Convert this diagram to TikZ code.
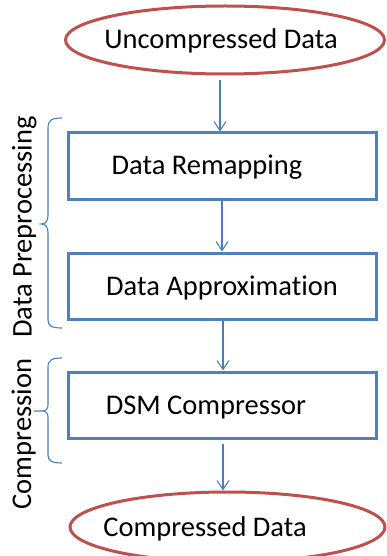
\documentclass[tikz,border=0pt]{standalone}
\usepackage{fontspec}
\setmainfont{Carlito}[Ligatures=CommonOff]
\usetikzlibrary{shapes.geometric,arrows.meta}
\definecolor{boxblue}{HTML}{4F81BD}
\definecolor{ovalred}{HTML}{C0504D}
\definecolor{linkblue}{HTML}{4A7EBB}
\tikzset{
  stage/.style={draw=boxblue, line width=3pt, rectangle, minimum width=308pt,
    minimum height=66pt, inner sep=0pt, text height=18pt, text depth=0pt},
  oval/.style={draw=ovalred, line width=3pt, ellipse, inner sep=0pt,
    text height=18pt, text depth=0pt},
  link/.style={draw=linkblue, line width=1.1pt,
    -{Straight Barb[length=9pt,width=12pt,line width=1.1pt]}},
  bracket/.style={draw=linkblue, line width=1.1pt},
  sidelabel/.style={rotate=90, inner sep=0pt, text height=18pt, text depth=0pt}
}
\begin{document}
\begin{tikzpicture}[x=1pt, y=-1pt, font=\fontsize{28.5pt}{34pt}\selectfont]
\useasboundingbox (0,0) rectangle (386,556);

% start and end of the flow
\node[oval, minimum width=319pt, minimum height=68pt] (u) at (225,40)
  {\makebox[0pt]{\kern-8pt Uncompressed Data}};
\node[oval, minimum width=315pt, minimum height=70pt] (c) at (227.5,527)
  {\makebox[0pt]{\kern-45pt Compressed Data}};

% processing stages
\node[stage] (b1) at (222,166) {\makebox[0pt]{\kern-30pt Data Remapping}};
\node[stage] (b2) at (222,286) {\makebox[0pt]{Data Approximation}};
\node[stage] (b3) at (222,405) {\makebox[0pt]{\kern-32pt DSM Compressor}};

% flow arrows
\draw[link] ([xshift=-5pt,yshift=-5pt]u.south) -- ([xshift=-2pt]b1.north);
\draw[link] (b1.south) -- (b2.north);
\draw[link] ([xshift=1pt]b2.south) -- ([xshift=1pt]b3.north);
\draw[link] ([xshift=1pt,yshift=-4pt]b3.south) -- ([xshift=1pt]b3.south |- c.north);

% grouping braces
\draw[bracket] (62,118) .. controls (52,118) and (48,120) .. (48,128)
  -- (48,215) .. controls (48,221) and (46,224) .. (41,224)
  .. controls (46,224) and (48,227) .. (48,233)
  -- (48,320) .. controls (48,326) and (52,328) .. (62,328);
\draw[bracket] (62,358) .. controls (52,358) and (48,360) .. (48,367)
  -- (48,405) .. controls (48,409) and (46,411) .. (42,411) -- (34,411)
  (42,411) .. controls (46,411) and (48,413) .. (48,417)
  -- (48,455) .. controls (48,461) and (52,463) .. (62,463);

% group labels
\node[sidelabel] (lp) at (22.5,227) {Data Preprocessing};
\node[sidelabel] (lc) at (22,434) {Compression};
\end{tikzpicture}
\end{document}
